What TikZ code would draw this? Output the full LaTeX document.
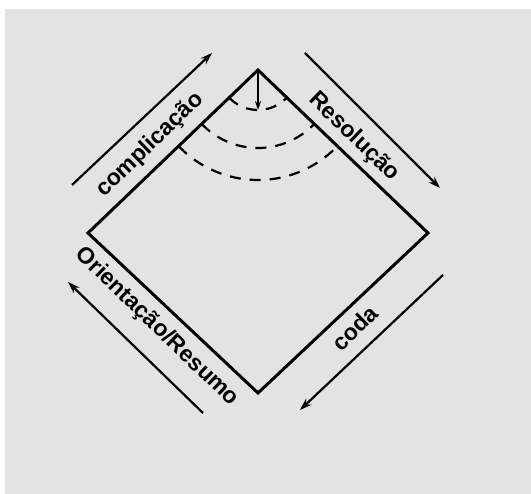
\documentclass[tikz,border=0pt]{standalone}
\usepackage{fontspec}
\setmainfont{Liberation Sans}
\usetikzlibrary{arrows.meta}

\tikzset{
  lbl/.style={font=\fontsize{23}{23}\selectfont\bfseries, inner sep=0pt},
  side/.style={line width=3pt, line join=miter},
  flow/.style={line width=2.2pt, -{Stealth[length=12pt,width=8pt]}},
  wave/.style={line width=2.2pt, dash pattern=on 11pt off 9pt}
}

\begin{document}
\begin{tikzpicture}[x=1pt,y=1pt]
\useasboundingbox (0,0) rectangle (531,494);
\fill[gray!22] (5,0) rectangle (531,485);

\coordinate (T) at (258,424);
\coordinate (L) at (88,261);
\coordinate (B) at (258,101);
\coordinate (R) at (428,261);

\draw[side] (T)--(R)--(B)--(L)--cycle;

% arcs below the top corner
\draw[wave] (T) ++(-136:40) arc[start angle=-136, end angle=-44, radius=40];
\draw[wave] (T) ++(-136:78) arc[start angle=-136, end angle=-44, radius=78];
\draw[wave] (T) ++(-136:110) arc[start angle=-136, end angle=-44, radius=110];
\coordinate (D) at (258,384);
\draw[line width=2pt, -{Stealth[length=9pt,width=6pt]}] (T)--(D);

% outer arrows
\coordinate (c1) at (72,309);
\coordinate (c2) at (212,441);
\coordinate (r1) at (305,441);
\coordinate (r2) at (440,306);
\coordinate (d1) at (443,219);
\coordinate (d2) at (300,84);
\coordinate (o1) at (203,81);
\coordinate (o2) at (68,212);

\draw[flow] (c1)--(c2);
\draw[flow] (r1)--(r2);
\draw[flow] (d1)--(d2);
\draw[flow] (o1)--(o2);

\node[lbl, rotate=44] (compl) at (150,349) {complicação};
\node[lbl, rotate=-44] (resol) at (354,357) {Resolução};
\node[lbl, rotate=-44] (orient) at (157,167) {Orientação/Resumo};
\node[lbl, rotate=44] (coda) at (355,166) {coda};
\end{tikzpicture}
\end{document}
